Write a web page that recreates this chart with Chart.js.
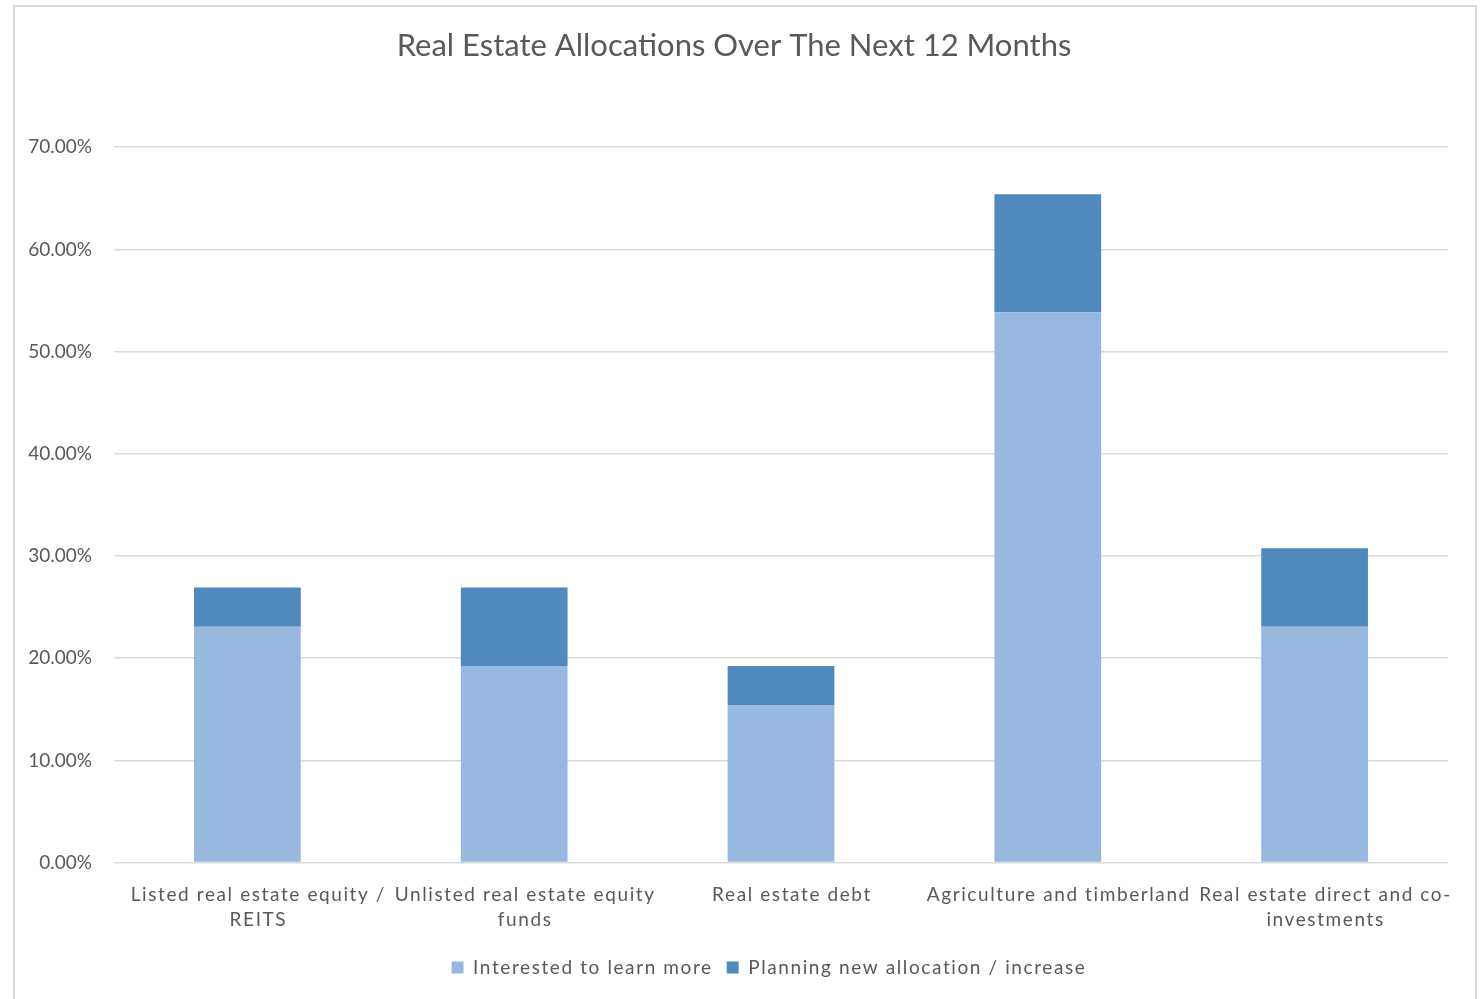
<!DOCTYPE html>
<html>
<head>
<meta charset="utf-8">
<script src="https://cdn.jsdelivr.net/npm/chart.js@4/dist/chart.umd.min.js"></script>
<style>
    html, body { margin: 0; padding: 0; background: #fff; overflow: hidden; }
    #frame {
        position: absolute; left: 13px; top: 5px;
        width: 1460px; height: 1010px;
        border: 2px solid #d9d9d9;
    }
    #wrap { position: absolute; left: 0; top: 0; width: 1483px; height: 999px; }
</style>
</head>
<body>
<div id="frame"></div>
<div id="wrap"><canvas id="allocChart"></canvas></div>
<script>
// Chart data
const categories = [
    ['Listed real estate equity /', 'REITS'],
    ['Unlisted real estate equity', 'funds'],
    'Real estate debt',
    'Agriculture and timberland',
    ['Real estate direct and co-', 'investments']
];
const interestedValues = [23.08, 19.23, 15.38, 53.85, 23.08];
const planningValues = [3.85, 7.69, 3.85, 11.54, 7.69];
const seriesNames = ['Interested to learn more', 'Planning new allocation / increase'];
const yTicks = [0, 10, 20, 30, 40, 50, 60, 70];

const textColor = '#595959';
const fontFamily = 'Lato, "Open Sans", sans-serif';

// Excel-like letter spacing for the category labels and legend
const spacing = '1.6px';
const spacedText = {
    id: 'spacedText',
    beforeUpdate(chart) {
        const legend = chart.legend;
        if (legend && !legend._spaced) {
            legend._spaced = true;
            ['fit', 'draw'].forEach(fn => {
                const orig = legend[fn];
                legend[fn] = function (...args) {
                    const c = this.ctx;
                    c.save();
                    c.letterSpacing = spacing;
                    const r = orig.apply(this, args);
                    c.restore();
                    return r;
                };
            });
        }
    },
    afterLayout(chart) {
        // legend sits a little right of centre in the original
        const legend = chart.legend;
        if (legend) {
            legend.left += 35;
            legend.right += 35;
        }
    },
    afterUpdate(chart) {
        const x = chart.scales.x;
        if (x && !x._spaced) {
            x._spaced = true;
            const orig = x.drawLabels;
            x.drawLabels = function (area) {
                const c = this.ctx;
                c.save();
                c.letterSpacing = spacing;
                orig.call(this, area);
                c.restore();
            };
        }
    }
};

const ctx = document.getElementById('allocChart').getContext('2d');
new Chart(ctx, {
    type: 'bar',
    data: {
        labels: categories,
        datasets: [{
            label: seriesNames[0],
            data: interestedValues,
            backgroundColor: '#97b9e0'
        }, {
            label: seriesNames[1],
            data: planningValues,
            backgroundColor: '#4f89bd'
        }]
    },
    options: {
        responsive: true,
        maintainAspectRatio: false,
        animation: false,
        layout: {
            padding: { left: 20, right: 35, top: 0, bottom: 12 }
        },
        datasets: {
            bar: {
                barPercentage: 0.4,
                categoryPercentage: 1
            }
        },
        scales: {
            x: {
                stacked: true,
                grid: { display: false },
                border: { display: false },
                ticks: {
                    color: textColor,
                    font: { family: fontFamily, size: 19, lineHeight: 1.3 },
                    maxRotation: 0,
                    autoSkip: false,
                    padding: 12,
                    labelOffset: 11
                }
            },
            y: {
                stacked: true,
                min: 0,
                max: 70,
                afterBuildTicks: (axis) => {
                    axis.ticks = yTicks.map(v => ({ value: v }));
                },
                afterFit: (axis) => { axis.width = 94; },
                grid: {
                    color: '#d9d9d9',
                    lineWidth: 1.5,
                    drawTicks: false
                },
                border: { display: false },
                ticks: {
                    color: textColor,
                    font: { family: fontFamily, size: 19 },
                    padding: 22,
                    callback: (v) => v.toFixed(2) + '%'
                }
            }
        },
        plugins: {
            title: {
                display: true,
                text: 'Real Estate Allocations Over The Next 12 Months',
                color: textColor,
                font: { family: fontFamily, size: 31, weight: 'normal' },
                padding: { top: 27, bottom: 83 }
            },
            legend: {
                position: 'bottom',
                labels: {
                    color: textColor,
                    font: { family: fontFamily, size: 19 },
                    boxWidth: 12,
                    boxHeight: 12,
                    padding: 14
                }
            },
            tooltip: { enabled: false }
        }
    },
    plugins: [spacedText]
});
</script>
</body>
</html>
